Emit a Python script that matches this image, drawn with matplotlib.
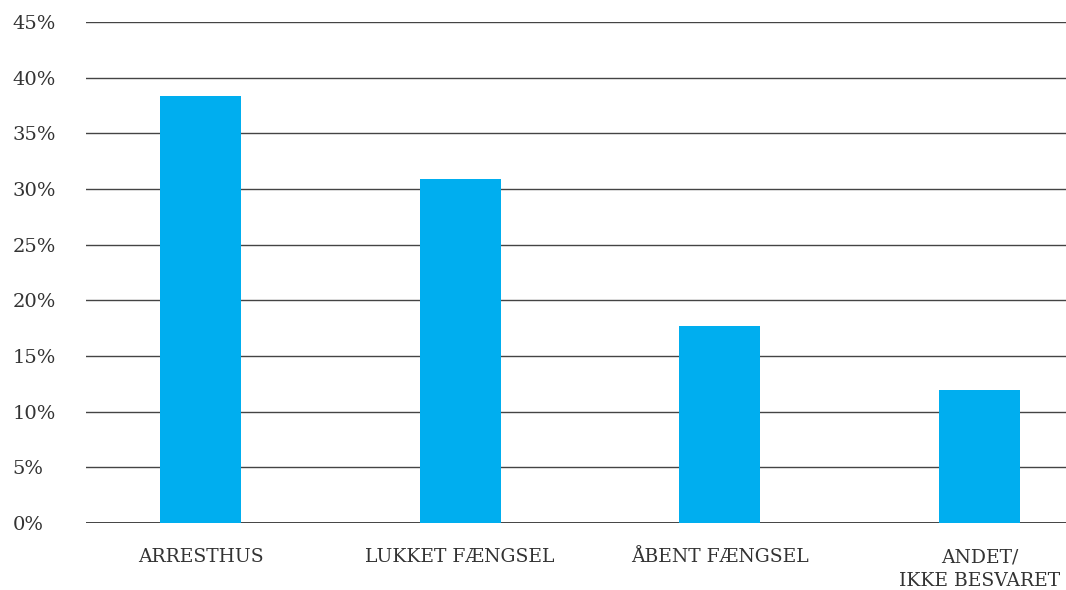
import matplotlib.pyplot as plt

# Data
categories = ['ARRESTHUS', 'LUKKET FÆNGSEL', 'ÅBENT FÆNGSEL', 'ANDET/\nIKKE BESVARET']
values = [38.35, 30.9, 17.7, 11.95]
yticks = [0, 5, 10, 15, 20, 25, 30, 35, 40, 45]

plt.rcParams['font.family'] = ['DejaVu Serif']

fig = plt.figure(figsize=(10.66, 5.9), dpi=100)
ax = fig.add_axes([86 / 1066, 1 - 523 / 590, 1 - 86 / 1066, (523 - 22) / 590])

# horizontal grid lines
for t in yticks:
    ax.axhline(t, color='#222222' if t == 0 else '#444444', lw=1.2 if t == 0 else 1.0, zorder=1)

ax.bar(range(len(categories)), values, width=0.312, color='#00AEEF', zorder=2)

ax.set_xlim(-0.441, 3.333)
ax.set_ylim(0, 45)
ax.set_yticks(yticks)
ax.set_yticklabels([f'{t}%' for t in yticks], fontsize=14, color='#333333')
ax.set_xticks(range(len(categories)))
ax.set_xticklabels(categories, fontsize=13.5, color='#333333', linespacing=1.45)
ax.tick_params(axis='both', length=0)
ax.tick_params(axis='x', pad=18)
ax.tick_params(axis='y', pad=53)
for lbl in ax.get_yticklabels():
    lbl.set_horizontalalignment('left')
for s in ax.spines.values():
    s.set_visible(False)

plt.savefig('out.png', dpi=100)
